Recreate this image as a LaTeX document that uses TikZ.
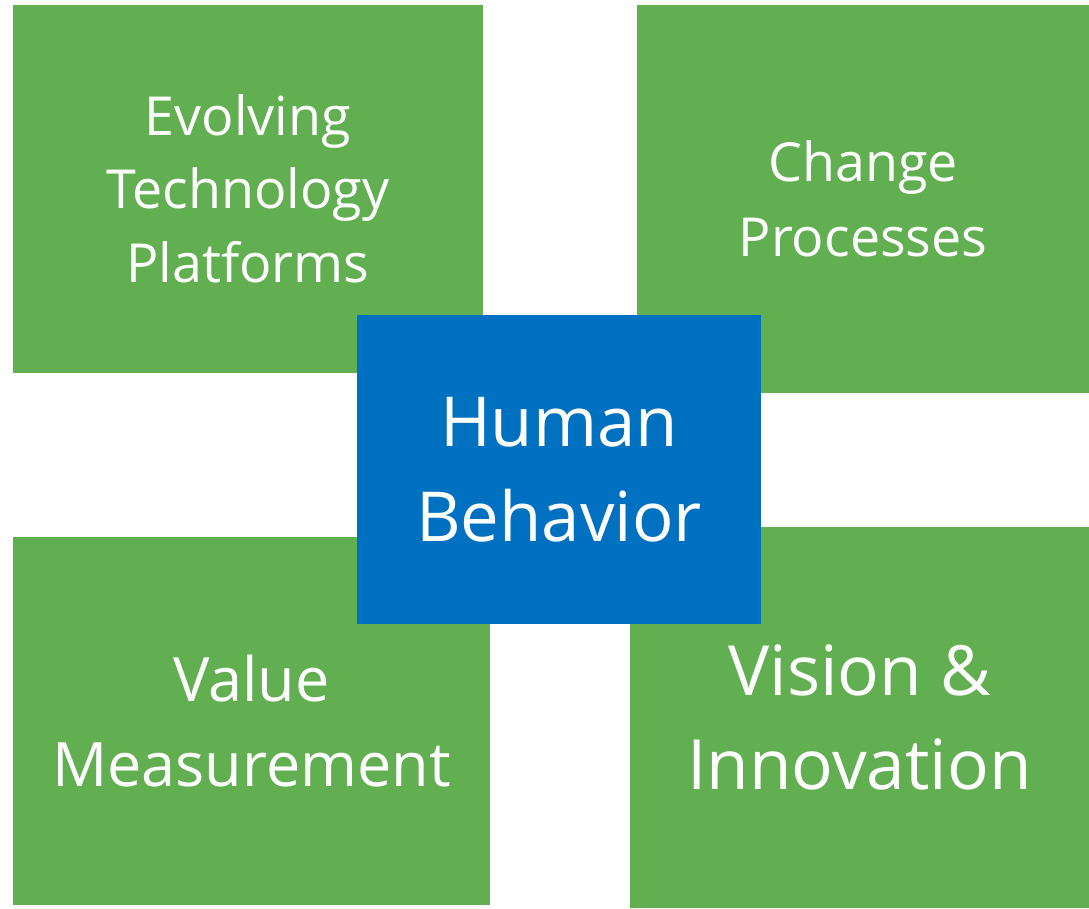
\documentclass[tikz,border=0pt]{standalone}
\usepackage{fontspec}
\setmainfont{Open Sans}
\definecolor{tilegreen}{HTML}{62AF52}
\definecolor{hubblue}{HTML}{0070C0}
\begin{document}
\begin{tikzpicture}[x=0.01cm, y=-0.01cm,
    tile/.style={fill=tilegreen, text=white, align=center, inner sep=0pt},
    hub/.style={fill=hubblue, text=white, align=center, inner sep=0pt}]
  \useasboundingbox (0,0) rectangle (1089,908);
  % four green tiles
  \node[tile, minimum width=4.70cm, minimum height=3.675cm,
        font=\fontsize{15.3}{20.8}\selectfont] (platforms) at (248,188.75)
        {Evolving\\Technology\\Platforms};
  \node[tile, minimum width=4.52cm, minimum height=3.875cm,
        font=\fontsize{15.3}{21.3}\selectfont] (change) at (863,198.75)
        {Change\\Processes};
  \node[tile, minimum width=4.77cm, minimum height=3.68cm,
        font=\fontsize{17.4}{24.2}\selectfont] (value) at (251.5,721)
        {Value\\Measurement};
  \node[tile, minimum width=4.59cm, minimum height=3.81cm,
        font=\fontsize{19.7}{26.7}\selectfont] (vision) at (859.5,717.5)
        {Vision \&\\Innovation};
  % centre
  \node[hub, minimum width=4.04cm, minimum height=3.09cm,
        font=\fontsize{19.6}{27}\selectfont] (behavior) at (559,469.5)
        {Human\\Behavior};
\end{tikzpicture}
\end{document}
